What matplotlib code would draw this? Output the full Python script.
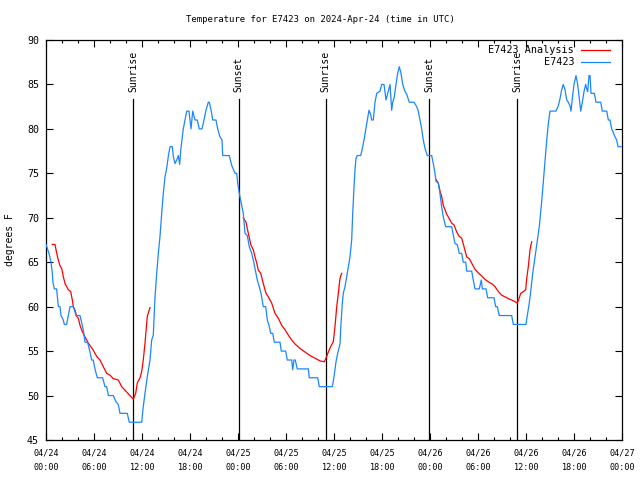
import matplotlib
matplotlib.use("Agg")
import matplotlib.pyplot as plt
from matplotlib.ticker import MultipleLocator, FixedLocator
from matplotlib.lines import Line2D

# ---- data (hours since 2024-04-24 00:00 UTC, degrees F) ----
obs_hours = [0.0, 0.375, 0.625, 0.79, 0.875, 1.04, 1.33, 1.54, 1.75, 1.875, 2.16, 2.29, 2.58, 2.79, 3.0,
             3.41, 3.625, 3.75, 4.25, 4.46, 4.66, 4.875, 5.2, 5.5, 5.7, 5.9, 6.125, 6.41, 7.08, 7.375,
             7.58, 7.8, 8.41, 8.75, 9.04, 9.25, 10.16, 10.41, 11.96,
             12.16, 12.375, 12.66, 13.0, 13.21, 13.41, 13.625, 13.84, 14.04, 14.25, 14.46, 14.66, 14.875,
             15.09, 15.29, 15.5, 15.79, 15.91, 16.125, 16.34, 16.54, 16.71, 16.84, 17.0, 17.16, 17.375,
             17.59, 17.875, 18.125, 18.34, 18.625, 18.91, 19.16, 19.5, 19.75, 20.0, 20.29, 20.41, 20.66,
             20.84, 21.25, 21.46, 21.75, 22.0, 22.09, 22.91, 23.21, 23.625, 23.84, 23.96, 24.16, 24.46,
             24.66, 24.875, 25.16, 25.41, 25.71, 25.91, 26.125, 26.41, 26.66, 26.875, 27.16, 27.46, 27.66,
             27.875, 28.09, 28.34, 28.54, 29.25, 29.41, 29.96, 30.16, 30.71, 30.84, 31.0, 31.16, 31.41,
             32.79, 32.91, 33.96, 34.16, 35.79, 36.0, 36.25, 36.46, 36.75, 36.875, 37.04, 37.16, 37.375,
             37.59, 37.79, 38.0, 38.21, 38.34, 38.5, 38.625, 38.75, 38.91, 39.34, 39.54, 39.75, 39.96,
             40.16, 40.375, 40.59, 40.71, 40.91, 41.125, 41.34, 41.75, 41.96, 42.25, 42.5, 42.71, 43.0,
             43.21, 43.34, 43.54, 43.75, 43.96, 44.16, 44.375, 44.59, 44.875, 45.09, 45.41, 46.0, 46.34,
             46.54, 46.75, 46.96, 47.16, 47.375, 47.66, 48.21, 48.41, 48.625, 48.75, 49.04, 49.25, 49.46,
             49.66, 49.96, 50.71, 50.91, 51.125, 51.41, 51.66, 51.96, 52.16, 52.46, 52.59, 53.21, 53.41,
             53.625, 54.16, 54.41, 54.54, 55.0, 55.21, 56.0, 56.21, 56.41, 56.66, 58.21, 58.41, 60.0,
             60.16, 60.34, 60.5, 60.625, 60.84, 61.125, 61.41, 61.66, 61.96, 62.16, 62.375, 62.59, 62.79,
             63.0, 63.75, 64.04, 64.25, 64.46, 64.66, 64.875, 65.09, 65.29, 65.5, 65.625, 65.79, 66.0,
             66.25, 66.46, 66.66, 66.84, 67.04, 67.25, 67.46, 67.59, 67.71, 67.875, 68.0, 68.125, 68.54,
             68.75, 69.34, 69.54, 70.09, 70.29, 70.5, 70.71, 70.91, 71.125, 71.34, 71.5, 71.875]
obs_temps = [67, 66, 65, 63.8, 62.7, 62, 62, 60, 60, 59, 58.5, 58, 58, 59, 60,
             60, 59.4, 59, 59, 58.2, 57.4, 56, 56, 54.9, 54, 54, 53, 52, 52, 51,
             51, 50, 50, 49.3, 49, 48, 48, 47, 47,
             48.75, 50.25, 52.1, 54, 56.25, 56.8, 61.1, 63.75, 66, 67.9, 70.5, 72.75, 74.6,
             75.6, 76.9, 78, 78, 76.9, 76.1, 76.5, 77, 76, 77.6, 78.75, 80, 81,
             82, 82, 80, 82, 81, 81, 80, 80, 81, 82.1, 83, 83, 82,
             81, 81, 80, 79.1, 78.75, 77, 77, 75.9, 75, 75, 73.9, 72.75, 71.4,
             70.5, 68.25, 68, 66.75, 66, 65.25, 64.3, 63, 62.25, 61.5, 60, 60, 58.5,
             57.9, 57, 57, 56, 56, 55, 55, 54, 54, 52.9, 54, 54, 53,
             53, 52, 52, 51, 51, 52.1, 53.8, 54.75, 55.8, 58.1, 60.4, 61.5, 62.25,
             63.4, 64.5, 65.6, 67.5, 70.5, 73.5, 75.4, 76.7, 77, 77, 77.8, 78.75, 79.9,
             81, 82.1, 81.6, 81, 81, 83, 84, 84.25, 85, 85, 83.25, 84, 85,
             82.1, 83, 83.6, 85, 86.25, 87, 86.25, 85, 84.2, 83.9, 83, 83, 82.5,
             82, 81, 80, 78.75, 77.8, 77, 77, 76.1, 75, 74.1, 73.9, 72.7, 71.2,
             70.1, 69, 69, 68.1, 67.1, 67, 66, 66, 65, 65, 64, 64, 63,
             62, 62, 63, 62, 62, 61, 61, 60, 60, 59, 59, 58, 58,
             59, 60, 61, 62, 63.75, 65.6, 67.5, 69, 71.8, 74, 76.5, 78.75, 80.6,
             82, 82, 82.6, 83.4, 84.4, 85, 84.4, 83.25, 83, 82.6, 82, 83.4, 85,
             86, 85, 83.4, 82, 83, 84.2, 85, 84.5, 84.2, 86, 86, 84, 84,
             83, 83, 82, 82, 81, 81, 80, 79.6, 79.1, 78.75, 78, 78]

ana1_hours = [0.79, 1.125, 1.34, 1.54, 1.75, 1.96, 2.16, 2.375, 2.79, 3.09, 3.29, 3.41, 3.625, 3.84,
              4.04, 4.25, 4.54, 4.875, 5.29, 5.91, 6.34, 6.75, 7.16, 7.59, 8.0, 8.41, 9.04, 9.46,
              9.875, 10.29, 10.91, 11.21, 11.41, 11.75, 11.96, 12.16, 12.375, 12.66, 13.0]
ana1_temps = [67, 67, 66, 65.25, 64.6, 64.3, 63.4, 62.6, 61.9, 61.7, 60.75, 60, 59.6, 58.9,
              58.7, 57.9, 57.2, 56.6, 55.9, 55.1, 54.4, 54, 53.25, 52.5, 52.3, 51.9, 51.75, 51,
              50.6, 50.2, 49.6, 50.25, 51.4, 52, 52.7, 54, 55.9, 58.9, 59.9]
ana2_hours = [24.66, 25.0, 25.16, 25.375, 25.625, 25.91, 26.125, 26.34, 26.54, 26.84, 27.16, 27.5,
              27.79, 28.21, 28.625, 29.04, 29.46, 29.875, 30.29, 30.71, 31.125, 31.75, 32.375, 33.0,
              33.625, 34.25, 34.79, 35.0, 35.29, 35.59, 35.91, 36.125, 36.34, 36.54, 36.75, 36.96]
ana2_temps = [70.0, 69.5, 68.8, 67.9, 66.9, 66.4, 65.6, 64.9, 64.1, 63.75, 62.6, 61.5,
              61.1, 60.4, 59.25, 58.7, 57.9, 57.4, 56.8, 56.25, 55.8, 55.3, 54.9, 54.5,
              54.2, 53.9, 53.8, 54.2, 54.9, 55.5, 56.06, 57.75, 60, 61.5, 63.2, 63.75]
ana3_hours = [48.75, 49.04, 49.25, 49.46, 49.66, 49.875, 50.09, 50.41, 50.71, 51.0, 51.34, 51.66,
              51.96, 52.25, 52.59, 52.91, 53.21, 53.625, 54.04, 54.46, 54.875, 55.29, 55.84, 56.125,
              56.54, 56.96, 57.375, 57.79, 58.21, 58.625, 58.91, 59.125, 59.34, 59.66, 59.96, 60.09,
              60.29, 60.5, 60.71]
ana3_temps = [74.3, 73.9, 73.0, 72.4, 71.4, 70.9, 70.4, 69.9, 69.4, 69.2, 68.4, 67.9,
              67.7, 66.75, 65.6, 65.4, 64.9, 64.2, 63.8, 63.45, 63.07, 62.8, 62.5, 62.25,
              61.7, 61.3, 61.1, 60.9, 60.75, 60.56, 60.4, 60.9, 61.5, 61.7, 61.9, 63.2,
              64.5, 66.4, 67.3]

event_names = ["Sunrise", "Sunset", "Sunrise", "Sunset", "Sunrise"]
event_hours = [10.91, 24.08, 34.96, 47.92, 58.91]

xtick_hours = [0, 6, 12, 18, 24, 30, 36, 42, 48, 54, 60, 66, 72]
xtick_labels = ["04/24\n00:00", "04/24\n06:00", "04/24\n12:00", "04/24\n18:00",
                "04/25\n00:00", "04/25\n06:00", "04/25\n12:00", "04/25\n18:00",
                "04/26\n00:00", "04/26\n06:00", "04/26\n12:00", "04/26\n18:00",
                "04/27\n00:00"]

title = "Temperature for E7423 on 2024-Apr-24 (time in UTC)"
ylabel = "degrees F"
series_names = ["E7423 Analysis", "E7423"]

# ---- style ----
RED = "#ff0000"
BLUE = "#1a86ff"
FONT = "DejaVu Sans Mono"
FS = 6.6
LW = 0.9

plt.rcParams["font.family"] = FONT
plt.rcParams["font.size"] = FS

fig = plt.figure(figsize=(6.4, 4.8), dpi=100)
ax = fig.add_axes([46 / 640, 40 / 480, 576 / 640, 400 / 480])

for h, t in [(ana1_hours, ana1_temps), (ana2_hours, ana2_temps), (ana3_hours, ana3_temps)]:
    ax.plot(h, t, color=RED, lw=LW, zorder=3)
ax.plot(obs_hours, obs_temps, color=BLUE, lw=LW, zorder=4)

label_y = 84.2
for name, h in zip(event_names, event_hours):
    ax.plot([h, h], [45, 83.4], color="black", lw=LW, zorder=2)
    ax.text(h, label_y, name, rotation=90, ha="center", va="bottom", fontsize=7.0)

ax.set_xlim(0, 72)
ax.set_ylim(45, 90)
ax.xaxis.set_major_locator(FixedLocator(xtick_hours))
ax.set_xticklabels(xtick_labels, linespacing=1.85)
ax.xaxis.set_minor_locator(MultipleLocator(2))
ax.yaxis.set_major_locator(MultipleLocator(5))

ax.tick_params(axis="both", which="both", direction="in", top=True, right=True, width=0.8)
ax.tick_params(axis="both", which="major", length=5)
ax.tick_params(axis="both", which="minor", length=2.5)
ax.tick_params(axis="x", which="major", pad=6, labelsize=6.1)
ax.tick_params(axis="y", which="major", pad=5, labelsize=7.2)
for s in ax.spines.values():
    s.set_linewidth(0.9)

# title centred on the figure (gnuplot style)
fig.text(0.5, 1 - 19.5 / 480, title, ha="center", va="center", fontsize=6.5)
ax.set_ylabel(ylabel, fontsize=7.0, labelpad=9)

# legend (gnuplot style: right-justified text, sample to the right)
leg_rows = [(0.975, RED), (0.944, BLUE)]
for name, (yy, col) in zip(series_names, leg_rows):
    ax.text(0.917, yy, name, transform=ax.transAxes, ha="right", va="center", fontsize=7.3)
    ax.add_line(Line2D([0.928, 0.979], [yy, yy], transform=ax.transAxes, color=col, lw=LW))

fig.savefig("out.png", dpi=100)
